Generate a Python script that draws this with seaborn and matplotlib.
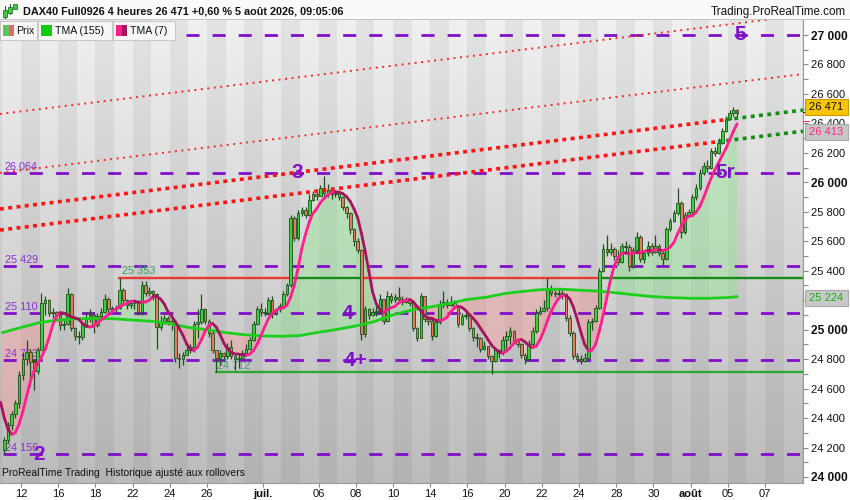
import matplotlib
matplotlib.use("Agg")
import matplotlib.pyplot as plt
from matplotlib.collections import LineCollection
from matplotlib.colors import LinearSegmentedColormap
from matplotlib.patches import Rectangle, PathPatch
from matplotlib.path import Path
import numpy as np
import pandas as pd
import seaborn as sns

# ---- data: DAX40 Full0926, 4h bars, 11 Jun -> 5 Aug 2026 ----
# one row per trading day (0 = 12 Jun), 5 bars a day, the last day only 3
day_index = list(range(-1, 39))
close_days = [
    [24250, 24350, 24430, 24500, 24690],  # 11 Jun
    [24800, 24850, 24780, 24720, 24860],  # 12
    [25180, 25200, 25110, 25120, 25100],  # 15
    [25030, 25040, 25240, 25010, 24960],  # 16
    [24950, 25030, 25080, 25100, 25030],  # 17
    [25090, 25120, 25210, 25140, 25140],  # 18
    [25150, 25270, 25200, 25170, 25180],  # 19
    [25180, 25120, 25300, 25250, 25260],  # 22
    [25240, 25020, 25060, 25080, 25060],  # 23
    [25040, 24810, 24800, 24830, 24860],  # 24
    [24880, 25040, 25050, 25140, 25060],  # 25
    [24980, 24860, 24810, 24840, 24820],  # 26
    [24880, 24820, 24800, 24810, 24840],  # 29
    [24870, 24930, 25040, 25140, 25120],  # 30
    [25110, 25200, 25110, 25140, 25160],  # 1 Jul
    [25240, 25300, 25760, 25620, 25790],  # 2
    [25810, 25780, 25880, 25920, 25910],  # 3
    [25960, 25930, 25950, 25920, 25930],  # 6
    [25900, 25830, 25790, 25680, 25600],  # 7
    [25540, 24970, 25140, 25100, 25120],  # 8
    [25120, 25210, 25060, 25230, 25200],  # 9
    [25220, 25210, 25190, 25200, 25180],  # 10
    [25010, 24940, 25230, 25070, 25060],  # 13
    [24960, 25050, 25170, 25190, 25170],  # 14
    [25180, 25160, 25040, 25090, 25100],  # 15
    [25010, 24950, 24940, 24870, 24890],  # 16
    [24820, 24790, 24860, 24840, 24930],  # 17
    [24960, 24990, 24920, 24900, 24830],  # 20
    [24800, 24900, 24990, 25110, 25130],  # 21
    [25150, 25270, 25250, 25240, 25250],  # 22
    [25240, 25080, 24980, 24820, 24800],  # 23
    [24790, 24810, 25050, 25060, 25150],  # 24
    [25400, 25550, 25530, 25550, 25500],  # 27
    [25460, 25570, 25560, 25430, 25540],  # 28
    [25630, 25480, 25520, 25570, 25530],  # 29
    [25570, 25520, 25480, 25680, 25740],  # 30
    [25790, 25860, 25660, 25780, 25800],  # 31
    [25900, 25960, 26060, 26110, 26100],  # 3 Aug
    [26210, 26200, 26270, 26350, 26430],  # 4
    [26470, 26490, 26471],                # 5
]
high_days = [
    [24270, 24370, 24450, 24520, 24720],
    [24840, 24930, 24870, 24800, 24880],
    [25250, 25230, 25210, 25150, 25130],
    [25110, 25070, 25280, 25250, 25020],
    [24990, 25050, 25120, 25140, 25110],
    [25110, 25150, 25240, 25220, 25160],
    [25170, 25353, 25280, 25210, 25200],
    [25200, 25190, 25330, 25330, 25290],
    [25270, 25250, 25090, 25100, 25090],
    [25080, 25050, 24840, 24850, 24900],
    [24900, 25060, 25140, 25240, 25150],
    [25070, 24990, 24860, 24860, 24850],
    [24910, 24930, 24830, 24840, 24860],
    [24900, 24950, 25060, 25160, 25180],
    [25150, 25220, 25230, 25150, 25180],
    [25260, 25320, 25780, 25770, 25810],
    [25830, 25830, 25920, 25940, 25950],
    [25980, 26040, 25990, 25960, 25950],
    [25940, 25910, 25840, 25800, 25690],
    [25620, 25550, 25160, 25150, 25150],
    [25160, 25240, 25210, 25260, 25250],
    [25240, 25290, 25230, 25220, 25210],
    [25180, 25020, 25250, 25230, 25090],
    [25080, 25070, 25200, 25260, 25210],
    [25230, 25200, 25170, 25110, 25130],
    [25110, 25020, 24980, 24950, 24920],
    [24890, 24830, 24880, 24870, 24960],
    [24990, 25020, 25000, 24930, 24910],
    [24840, 24930, 25020, 25140, 25160],
    [25200, 25350, 25300, 25270, 25280],
    [25280, 25250, 25100, 24990, 24840],
    [24830, 24840, 25070, 25080, 25170],
    [25420, 25580, 25640, 25590, 25560],
    [25540, 25590, 25600, 25580, 25560],
    [25660, 25640, 25540, 25600, 25590],
    [25640, 25580, 25540, 25700, 25760],
    [25810, 25960, 25870, 25800, 25820],
    [25920, 25990, 26090, 26140, 26150],
    [26230, 26240, 26300, 26370, 26450],
    [26490, 26510, 26500],
]
low_days = [
    [24156, 24230, 24320, 24400, 24470],
    [24660, 24760, 24620, 24590, 24700],
    [24860, 25100, 25090, 25080, 25070],
    [25000, 25000, 25030, 24990, 24930],
    [24900, 24930, 25020, 25050, 24980],
    [25020, 25070, 25110, 25110, 25120],
    [25120, 25140, 25180, 25140, 25150],
    [25140, 25100, 25100, 25230, 25230],
    [25200, 24870, 25000, 25040, 25030],
    [25000, 24780, 24740, 24760, 24830],
    [24840, 24850, 24940, 25040, 25040],
    [24950, 24840, 24712, 24760, 24790],
    [24800, 24800, 24725, 24740, 24800],
    [24830, 24860, 24920, 25030, 25090],
    [25090, 25100, 25080, 25100, 25120],
    [25150, 25230, 25290, 25600, 25610],
    [25770, 25760, 25770, 25870, 25880],
    [25910, 25900, 25900, 25890, 25900],
    [25880, 25810, 25760, 25650, 25570],
    [25520, 24930, 24950, 25070, 25090],
    [25090, 25110, 25040, 25050, 25180],
    [25190, 25190, 25170, 25180, 25160],
    [24990, 24920, 24940, 25050, 25030],
    [24930, 24950, 25040, 25150, 25150],
    [25160, 25140, 25020, 25030, 25070],
    [24990, 24920, 24880, 24850, 24860],
    [24800, 24700, 24780, 24810, 24830],
    [24850, 24900, 24900, 24880, 24810],
    [24770, 24790, 24890, 24980, 25100],
    [25120, 25130, 25230, 25220, 25220],
    [25210, 25060, 24960, 24800, 24780],
    [24770, 24780, 24800, 25000, 25050],
    [25140, 25390, 25500, 25510, 25470],
    [25440, 25450, 25530, 25400, 25420],
    [25520, 25460, 25450, 25500, 25510],
    [25520, 25500, 25440, 25470, 25670],
    [25730, 25780, 25620, 25650, 25770],
    [25780, 25880, 25950, 26050, 26070],
    [26090, 26180, 26190, 26260, 26340],
    [26420, 26450, 26440],
]
# closes just left of the window, they only feed the TMA(7)
warmup_close = [24850, 24750, 24650, 24500, 24380, 24250, 24180]

# TMA(155) read at each day start, plus its value on the last bar
tma155_day = [24980, 25015, 25048, 25065, 25074, 25076, 25074, 25065, 25057, 25042,
              25015, 25000, 24980, 24966, 24957, 24955, 24960, 24982, 25002, 25025,
              25055, 25100, 25133, 25154, 25178, 25205, 25220, 25245, 25260, 25272,
              25275, 25268, 25262, 25250, 25236, 25224, 25217, 25213, 25213, 25218]
tma155_last = 25224

purple_levels = [27000, 26064, 25429, 25110, 24793, 24156]
purple_names = ['', '26.064', '25 429', '25 110', '24 793', '24 156']
level_hi, level_lo = 25353, 24712

# sloped channel lines, price at the left and right edge of the plot
chan_x = [-1.13, 42.04]
chan_thin = [[26464, 27134], [26064, 26735]]
chan_thick = [[25819, 26490], [25676, 26347]]
chan_break = [37.9, 37.47]          # where the thick lines turn green

tick_days = [0, 2, 4, 6, 8, 10, 13, 16, 18, 20, 22, 24, 26, 28, 30, 32, 34, 36, 38, 40]
tick_text = ['12', '16', '18', '22', '24', '26', 'juil.', '06', '08', '10', '14', '16',
             '20', '22', '24', '28', '30', 'août', '05', '07']

# ---- build bars ----
rows = []
prev = warmup_close[-1]
for d, cs, hs, ls in zip(day_index, close_days, high_days, low_days):
    for k, (c, h, l) in enumerate(zip(cs, hs, ls)):
        rows.append(dict(x=d + k / 5 + 0.1, open=prev, high=h, low=l, close=c))
        prev = c
bars = pd.DataFrame(rows)

all_close = pd.Series(warmup_close + list(bars.close))
all_x = np.r_[[-0.9 - (len(warmup_close) - i) / 5 for i in range(len(warmup_close))], bars.x]
tma7 = all_close.rolling(4).mean().rolling(4).mean()   # ProRealTime TMA(7)
ok = tma7.notna().values
x7, t7 = all_x[ok], tma7.values[ok]

x155 = np.r_[np.array(day_index, float), bars.x.iloc[-1]]
t155 = np.r_[tma155_day, tma155_last]

# ---- figure ----
sns.set_theme(style="white")
plt.rcParams['font.family'] = ['Liberation Sans', 'DejaVu Sans']
plt.rcParams['lines.scale_dashes'] = False

W, H = 850, 500
fig = plt.figure(figsize=(8.5, 5), dpi=100)
fig.patch.set_facecolor('white')
ax = fig.add_axes([0, 17 / H, 803 / W, 463 / H])
x0, x1 = -21 / 18.6, (803 - 21) / 18.6
y0, y1 = 27000 - 448 / 0.14733, 27000 + 15 / 0.14733

grad = np.linspace(0, 1, 256).reshape(-1, 1)
ax.imshow(grad, extent=[x0, x1, y0, y1], aspect='auto', origin='upper', zorder=0,
          cmap=LinearSegmentedColormap.from_list('bg', ['#f0f0f0', '#bcbcbc']))
for d in range(-2, 44):
    if d % 2 == 0:
        ax.axvspan(d, d + 1, color='black', alpha=0.05, lw=0, zorder=0.5)

# fill between TMA(7) and TMA(155), green above / red below
band = Path(np.vstack([np.column_stack([x7, t7]), np.column_stack([x155[::-1], t155[::-1]])]))
above = Path(np.vstack([[[x0 - 3, t155[0]]], np.column_stack([x155, t155]),
                        [[x1 + 3, t155[-1]], [x1 + 3, 30000], [x0 - 3, 30000]]]))
below = Path(np.vstack([[[x0 - 3, t155[0]]], np.column_stack([x155, t155]),
                        [[x1 + 3, t155[-1]], [x1 + 3, 20000], [x0 - 3, 20000]]]))
for clip, col, a in [(above, '#8ee88e', 0.42), (below, '#ff9090', 0.36)]:
    p = ax.add_patch(PathPatch(band, facecolor=col, alpha=a, lw=0, zorder=1))
    p.set_clip_path(clip, ax.transData)

# purple levels
for lv in purple_levels:
    ax.axhline(lv, color='#7f0fc8', lw=2.0, ls=(16.5, (9.4, 9.4)), zorder=2)
for lv, name in zip(purple_levels, purple_names):
    if name:
        ax.text(-0.87, lv + 42, name, color='#8a2fd0', fontsize=7.8, va='center', zorder=2)

# horizontal support / resistance
seg, cols = [], []
start = bars.index[bars.high == level_hi][0]
for i in range(start, len(bars)):
    xb = bars.x[i]
    seg.append([(xb - 0.1, level_hi), (xb + 0.1, level_hi)])
    cols.append('#178a17' if bars.close[i] > level_hi else '#e83a32')
seg.append([(bars.x.iloc[-1] + 0.1, level_hi), (x1, level_hi)])
cols.append(cols[-1])
ax.add_collection(LineCollection(seg, colors=cols, lw=1.7, zorder=2.2))
lo_x = bars.x[bars.low == level_lo].iloc[0]
ax.plot([lo_x, x1], [level_lo, level_lo], color='#2ea82e', lw=1.7, zorder=2.2)
ax.text(5.43, level_hi + 44, '25 353', color='#2f9e56', fontsize=7.8, va='center', zorder=2.3)
ax.text(lo_x + 0.05, level_lo + 42, '24 712', color='#3aa37a', fontsize=7.8, va='center', zorder=2.3)

# candles
up = bars.close >= bars.open
ax.vlines(bars.x, bars.low, bars.high, color='#1d4f1d', lw=0.9, zorder=3)
ax.bar(bars.x, (bars.close - bars.open).abs().clip(lower=4), bottom=bars[['open', 'close']].min(axis=1),
       width=0.14, color=np.where(up, '#3ccf3c', '#e8785f'), edgecolor='#1d4f1d', lw=0.6, zorder=3.1)

# channel lines
for ys in chan_thin:
    ax.plot(chan_x, ys, color='#f22a2a', lw=1.4, ls=(0, (1.4, 3.3)), zorder=3.5)
for ys, xb in zip(chan_thick, chan_break):
    yb = np.interp(xb, chan_x, ys)
    ax.plot([chan_x[0], xb], [ys[0], yb], color='#ff1414', lw=2.6, ls=(0, (2.8, 3.2)), zorder=3.5)
    ax.plot([xb, chan_x[1]], [yb, ys[1]], color='#158a15', lw=2.6, ls=(0, (2.8, 3.2)), zorder=3.5)

# moving averages
sns.lineplot(x=x155, y=t155, ax=ax, color='#1ccf1c', lw=2.0, zorder=4)
pts = np.column_stack([x7, t7])
segs = np.stack([pts[:-1], pts[1:]], axis=1)
c7 = np.where(np.diff(t7) >= 0, '#ff1f8e', '#a3155e')
ax.add_collection(LineCollection(segs, colors=c7, lw=2.0, capstyle='round', zorder=4.2))

# wave labels
for s, xd, lv in [('5', 38.66, 27000), ('3', 14.84, 26064), ('5r', 37.85, 26064),
                  ('4', 17.53, 25110), ('4+', 18.0, 24793), ('2', 0.95, 24156)]:
    ax.text(xd, lv, s, color='#7f0fc8', fontsize=15, fontweight='bold',
            ha='center', va='center', zorder=5)

ax.text(-1.0, 24030, 'ProRealTime Trading  Historique ajusté aux rollovers',
        fontsize=7.5, color='#111111', va='center', zorder=5)

# axes
ax.set_xlim(x0, x1)
ax.set_ylim(y0, y1)
ax.yaxis.tick_right()
yt = list(range(24000, 27001, 200))
ax.set_yticks(yt)
# 25 200 sits right under the TMA(155) price tag, so it is left blank as on the chart
ax.set_yticklabels(['' if v == 25200 else f'{v:,}'.replace(',', ' ') for v in yt])
for v, lab in zip(yt, ax.get_yticklabels()):
    if v % 1000 == 0:
        lab.set_fontweight('bold')
        lab.set_fontsize(8.6)
    else:
        lab.set_fontsize(8)
ax.set_yticks(range(24100, 27000, 200), minor=True)
ax.tick_params(axis='y', which='both', right=True, left=False, length=3.5, width=0.8,
               color='#888888', pad=2, labelcolor='#111111')
ax.set_xticks(tick_days)
ax.set_xticklabels(tick_text, fontsize=8, color='#111111')
for s, lab in zip(tick_text, ax.get_xticklabels()):
    if not s.isdigit():
        lab.set_fontweight('bold')
ax.tick_params(axis='x', bottom=True, length=3, width=0.8, color='#888888', pad=1.5)
for side in ['top', 'left']:
    ax.spines[side].set_visible(False)
for side in ['right', 'bottom']:
    ax.spines[side].set_color('#9a9a9a')
    ax.spines[side].set_linewidth(0.8)


def frect(xa, ya, xb, yb, **kw):
    fig.patches.append(Rectangle((xa / W, 1 - yb / H), (xb - xa) / W, (yb - ya) / H,
                                 transform=fig.transFigure, **kw))


def ftext(x, y, s, **kw):
    fig.text(x / W, 1 - y / H, s, **kw)


# title strip
frect(0, 0, W, 20, facecolor='#fafafa', edgecolor='none')
frect(0, 19.5, W, 20.3, facecolor='#c4c4c4', edgecolor='none')
for cx, ya, yb, ba, bb in [(5, 6, 19, 10, 17), (10, 4, 15, 7, 13), (15, 2, 12, 4, 9)]:
    frect(cx - 0.5, ya, cx + 0.5, yb, facecolor='#1d5a1d', edgecolor='none')
    frect(cx - 2, ba, cx + 2, bb, facecolor='#3ccf3c', edgecolor='#1d5a1d', lw=0.5)
ftext(23, 12, 'DAX40 Full0926 4 heures 26 471 +0,60 % 5 août 2026, 09:05:06',
      fontsize=7.8, fontweight='bold', va='center', color='#111111')
ftext(846, 12, 'Trading.ProRealTime.com', fontsize=8.4, ha='right', va='center', color='#111111')

# legend boxes
for xa, xb in [(0, 37), (38, 112), (113, 175)]:
    frect(xa, 21, xb, 40, facecolor='#f7f7f7', edgecolor='#c8c8c8', lw=0.8)
frect(3, 25, 8.5, 36, facecolor='#5cc45c', edgecolor='none')
frect(8.5, 25, 14, 36, facecolor='#e06a6a', edgecolor='none')
frect(41, 25, 52, 36, facecolor='#12cc12', edgecolor='none')
frect(116, 25, 121.5, 36, facecolor='#ff1f8e', edgecolor='none')
frect(121.5, 25, 127, 36, facecolor='#a3155e', edgecolor='none')
ftext(16, 30.5, 'Prix', fontsize=7.6, va='center', color='#111111')
ftext(55, 30.5, 'TMA (155)', fontsize=7.6, va='center', color='#111111')
ftext(130, 30.5, 'TMA (7)', fontsize=7.6, va='center', color='#111111')

# price tags on the right axis
frect(803, 112.5, 810, 113.3, facecolor='#111111', edgecolor='none')
frect(803, 121.5, 810, 122.3, facecolor='#ff1f8e', edgecolor='none')
frect(803, 296.5, 810, 297.3, facecolor='#1ccf1c', edgecolor='none')
frect(805, 99, 848, 115, facecolor='#f7c600', edgecolor='#c89a00', lw=0.8)
ftext(826.5, 107, '26 471', fontsize=8, ha='center', va='center', color='#111111')
frect(805, 124, 848, 140, facecolor='#c6c6c6', edgecolor='#a8a8a8', lw=0.8)
ftext(826.5, 132, '26 413', fontsize=8, ha='center', va='center', color='#ff2a8a')
frect(805, 290, 848, 306, facecolor='#c8c8c8', edgecolor='#a8a8a8', lw=0.8)
ftext(826.5, 298, '25 224', fontsize=8, ha='center', va='center', color='#19b019')

fig.savefig('out.png', dpi=100)
